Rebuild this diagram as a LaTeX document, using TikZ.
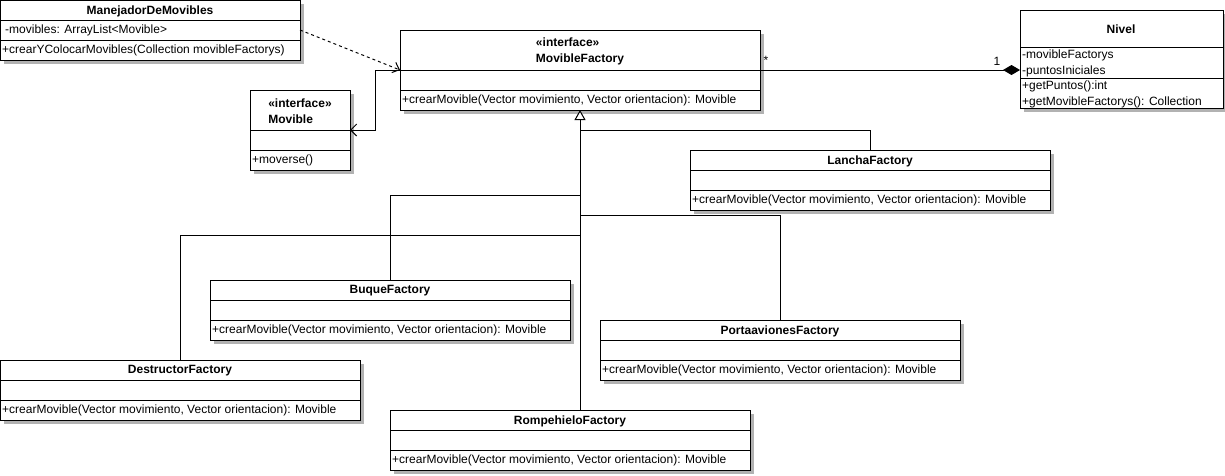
\documentclass[tikz,border=0pt]{standalone}
\usepackage{fontspec}
\setmainfont{Liberation Sans}
\usetikzlibrary{arrows.meta,shadows}
\newcommand{\umlfont}{\fontsize{12}{16}\selectfont}
\tikzset{
  classbox/.style={draw, fill=white, line width=1pt, anchor=north west, inner sep=0pt, outer sep=0pt,
    drop shadow={shadow xshift=4pt, shadow yshift=-4pt, fill=black!30, opacity=1}},
  classname/.style={font=\umlfont\bfseries, inner sep=0pt},
  member/.style={font=\umlfont, anchor=west, inner sep=0pt},
  sepline/.style={line width=1pt},
  link/.style={line width=1pt},
}

\begin{document}
\begin{tikzpicture}[x=1pt,y=-1pt]
	\useasboundingbox (0,0) rectangle (1225,475);
	\node[classbox,minimum width=300pt,minimum height=60pt] (manejador) at (0,0) {};
	\draw[sepline] (0,20) -- (300,20) (0,40) -- (300,40);
	\node[classname] (manejadorT) at (150,11) {ManejadorDeMovibles};
	\node[member] (manejadorA) at (5,30) {-movibles: ArrayList<Movible>};
	\node[member] (manejadorO) at (2,50) {+crearYColocarMovibles(Collection movibleFactorys)};
	\node[classbox,minimum width=100pt,minimum height=80pt] (movible) at (250,90) {};
	\draw[sepline] (250,130) -- (350,130) (250,150) -- (350,150);
	\node[classname,align=left] (movibleT) at (300,111) {«interface»\\Movible};
	\node[member] (movibleO) at (252,160) {+moverse()};
	\node[classbox,minimum width=360pt,minimum height=80pt] (factory) at (400,30) {};
	\draw[sepline] (400,70) -- (760,70) (400,90) -- (760,90);
	\node[classname,align=left] (factoryT) at (580,51) {«interface»\\MovibleFactory};
	\node[member] (factoryO) at (402,100) {+crearMovible(Vector movimiento, Vector orientacion): Movible};
	\node[classbox,minimum width=203pt,minimum height=98pt] (nivel) at (1020,10) {};
	\draw[sepline] (1020,47) -- (1223,47) (1020,78) -- (1223,78);
	\node[classname] (nivelT) at (1121,29) {Nivel};
	\node[member] (nivelA1) at (1022,55) {-movibleFactorys};
	\node[member] (nivelA2) at (1022,71) {-puntosIniciales};
	\node[member] (nivelO1) at (1022,86) {+getPuntos():int};
	\node[member] (nivelO2) at (1022,102) {+getMovibleFactorys(): Collection};
	\node[classbox,minimum width=360pt,minimum height=60pt] (lancha) at (690,150) {};
	\draw[sepline] (690,170) -- (1050,170) (690,190) -- (1050,190);
	\node[classname] (lanchaT) at (870,161) {LanchaFactory};
	\node[member] (lanchaO) at (692,200) {+crearMovible(Vector movimiento, Vector orientacion): Movible};
	\node[classbox,minimum width=360pt,minimum height=60pt] (buque) at (210,280) {};
	\draw[sepline] (210,300) -- (570,300) (210,320) -- (570,320);
	\node[classname] (buqueT) at (390,291) {BuqueFactory};
	\node[member] (buqueO) at (212,330) {+crearMovible(Vector movimiento, Vector orientacion): Movible};
	\node[classbox,minimum width=360pt,minimum height=60pt] (porta) at (600,320) {};
	\draw[sepline] (600,340) -- (960,340) (600,360) -- (960,360);
	\node[classname] (portaT) at (780,331) {PortaavionesFactory};
	\node[member] (portaO) at (602,370) {+crearMovible(Vector movimiento, Vector orientacion): Movible};
	\node[classbox,minimum width=360pt,minimum height=60pt] (destructor) at (0,360) {};
	\draw[sepline] (0,380) -- (360,380) (0,400) -- (360,400);
	\node[classname] (destructorT) at (180,371) {DestructorFactory};
	\node[member] (destructorO) at (2,410) {+crearMovible(Vector movimiento, Vector orientacion): Movible};
	\node[classbox,minimum width=360pt,minimum height=60pt] (rompe) at (390,410) {};
	\draw[sepline] (390,430) -- (750,430) (390,450) -- (750,450);
	\node[classname] (rompeT) at (570,421) {RompehieloFactory};
	\node[member] (rompeO) at (392,460) {+crearMovible(Vector movimiento, Vector orientacion): Movible};
	\draw[link,dash pattern=on 3pt off 3pt,-{Straight Barb[length=6pt,width=11pt]}] (manejador.east) -- (factory.west);
	\draw[link,-{Straight Barb[length=6pt,width=12pt]}] (factory.west) -- ++(-25,0) |- (movible.east);
	\draw[link,{Diamond[length=17pt,width=10pt]}-] (factory.east -| nivel.west) -- (factory.east);
	\node[member,anchor=center] (many) at (766,60) {*};
	\node[member,anchor=center] (one) at (997,61) {1};
	\draw[link,-{Triangle[open,fill=white,length=10pt,width=11pt]}] (rompe.north -| factory.south) -- (factory.south);
	\draw[link] (lancha.north) |- ([yshift=-20pt]factory.south);
	\draw[link] (buque.north) |- ([yshift=-85pt]factory.south);
	\draw[link] (porta.north) |- ([yshift=-105pt]factory.south);
	\draw[link] (destructor.north) |- ([yshift=-125pt]factory.south);
\end{tikzpicture}
\end{document}
